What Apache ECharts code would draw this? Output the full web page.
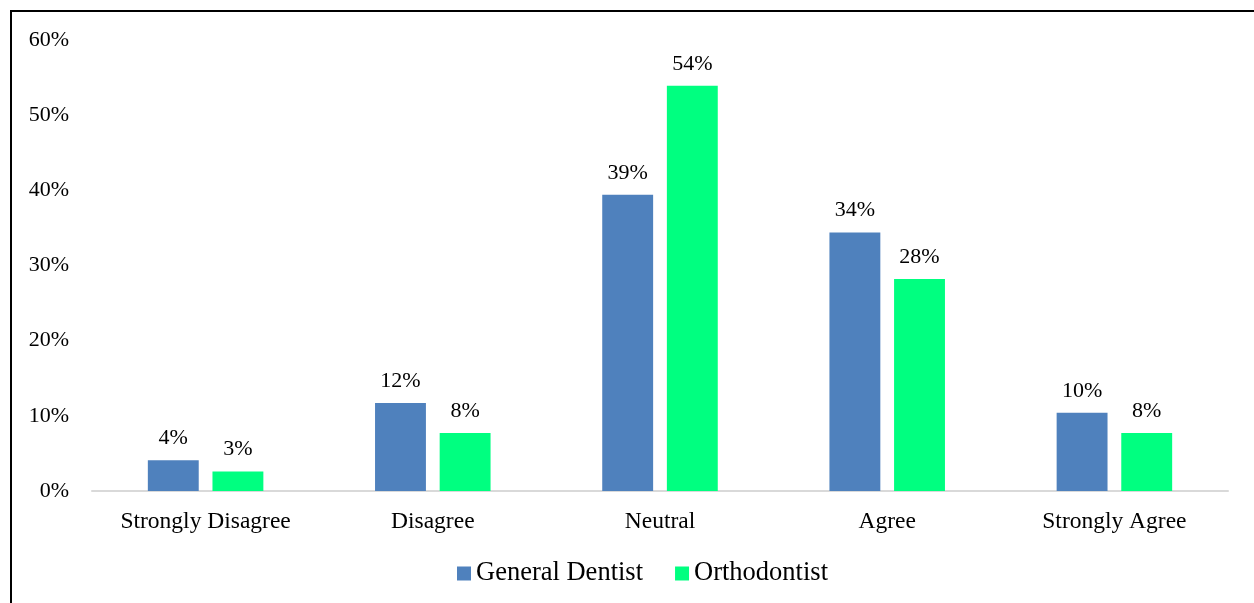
<!DOCTYPE html>
<html>
<head>
<meta charset="utf-8">
<script src="https://cdn.jsdelivr.net/npm/echarts@6/dist/echarts.min.js"></script>
<style>
  html, body { margin: 0; padding: 0; background: #fff; overflow: hidden; }
  #frame { position: absolute; left: 10px; top: 10px; width: 1260px; height: 620px; border: 2px solid #000; }
  #chart { position: absolute; left: 0; top: 0; width: 1254px; height: 603px; }
</style>
</head>
<body>
<div id="frame"></div>
<div id="chart"></div>
<script>
// survey answers, share of respondents (%)
let categories = ['Strongly Disagree', 'Disagree', 'Neutral', 'Agree', 'Strongly Agree']
let seriesNames = ['General Dentist', 'Orthodontist']
let generalDentist = [4.1, 11.7, 39.4, 34.4, 10.4]
let orthodontist = [2.6, 7.7, 53.9, 28.2, 7.7]
let yTicks = [0, 10, 20, 30, 40, 50, 60]

let font = 'Liberation Serif'
let chart = echarts.init(document.getElementById('chart'))

let labelOpt = {
  show: true,
  position: 'top',
  distance: 11,
  color: '#000',
  fontFamily: font,
  fontSize: 22,
  formatter: function (p) { return Math.round(p.value) + '%' }
}

let option = {
  animation: false,
  textStyle: { fontFamily: font },
  grid: { left: 92, right: 26, top: 40, bottom: 112 },
  legend: {
    data: seriesNames,
    bottom: 11,
    left: 452,
    itemWidth: 14,
    itemHeight: 14,
    itemGap: 32,
    icon: 'rect',
    textStyle: { fontFamily: font, fontSize: 26.5, color: '#000' }
  },
  xAxis: {
    type: 'category',
    data: categories,
    axisLine: { lineStyle: { color: '#d9d9d9', width: 2 } },
    axisTick: { show: false },
    axisLabel: { color: '#000', fontFamily: font, fontSize: 23.5, margin: 19 }
  },
  yAxis: {
    type: 'value',
    min: yTicks[0],
    max: yTicks[yTicks.length - 1],
    interval: 10,
    splitLine: { show: false },
    axisLine: { show: false },
    axisTick: { show: false },
    axisLabel: { color: '#000', fontFamily: font, fontSize: 22, margin: 23, formatter: '{value}%' }
  },
  series: [
    {
      name: seriesNames[0],
      type: 'bar',
      barWidth: '22.4%',
      barGap: '27%',
      itemStyle: { color: '#4f81bd' },
      label: labelOpt,
      data: generalDentist
    },
    {
      name: seriesNames[1],
      type: 'bar',
      barWidth: '22.4%',
      itemStyle: { color: '#00ff80' },
      label: labelOpt,
      data: orthodontist
    }
  ]
}
chart.setOption(option)
</script>
</body>
</html>
